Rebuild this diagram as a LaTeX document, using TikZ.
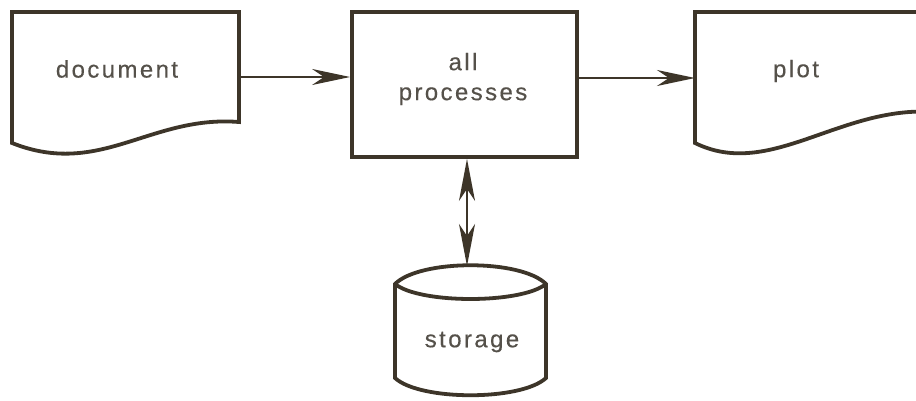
\documentclass[tikz,border=0pt]{standalone}
\usepackage{fontspec}
\usetikzlibrary{arrows.meta}
\newfontfamily\lblfont[LetterSpace=10, FakeBold=0.3]{Liberation Sans}
\definecolor{ink}{HTML}{3D3529}
\definecolor{txt}{HTML}{55514A}
\tikzset{
  shapeline/.style={draw=ink, line width=3.8pt, line join=miter, fill=white},
  lbl/.style={text=txt, font=\lblfont\fontsize{24}{30}\selectfont, align=center, inner sep=0pt},
  flow/.style={draw=ink, line width=1.8pt,
    -{Stealth[length=38pt, width=16pt, inset=12pt]}},
  bothflow/.style={draw=ink, line width=1.8pt,
    {Stealth[length=42pt, width=16pt, inset=12pt]}-{Stealth[length=42pt, width=16pt, inset=12pt]}}
}
\begin{document}
\begin{tikzpicture}[x=1pt, y=-1pt]
\useasboundingbox (0,0) rectangle (916,401);
\fill[white] (0,0) rectangle (916,401);

% input document
\draw[shapeline] (12,143) -- (12,12) -- (239,12) -- (239,122)
  .. controls (150,115) and (100,178) .. (12,143) -- cycle;
\coordinate (doc-e) at (239,77);
\node[lbl] (doc) at (117,69) {document};

% process box
\node[shapeline, minimum width=225pt, minimum height=145pt, inner sep=0pt] (proc) at (464.5,84.5) {};
\node[lbl] (proc-txt) at (463,79) {all\\processes};

% output plot, running off the right edge
\begin{scope}
  \clip (0,0) rectangle (916,401);
  \draw[shapeline] (695,143) -- (695,12) -- (935,12) -- (935,112)
    .. controls (840,105) and (770,180) .. (695,143) -- cycle;
\end{scope}
\coordinate (plot-w) at (695,78);
\node[lbl] (plot) at (796,71) {plot};

% storage cylinder
\draw[shapeline] (395,284) .. controls (420,259) and (521,259) .. (546,284)
  -- (546,378) .. controls (521,401) and (420,401) .. (395,378) -- cycle;
\draw[draw=ink, line width=3.8pt] (395,284) .. controls (420,304) and (521,304) .. (546,284);
\coordinate (store-top) at (467,266);
\node[lbl] (store) at (472,342) {storage};

% connectors
\draw[flow] (doc-e) -- (doc-e -| proc.west);
\draw[flow] (proc.east |- plot-w) -- (plot-w);
\draw[bothflow] (store-top |- proc.south) -- (store-top);
\end{tikzpicture}
\end{document}
